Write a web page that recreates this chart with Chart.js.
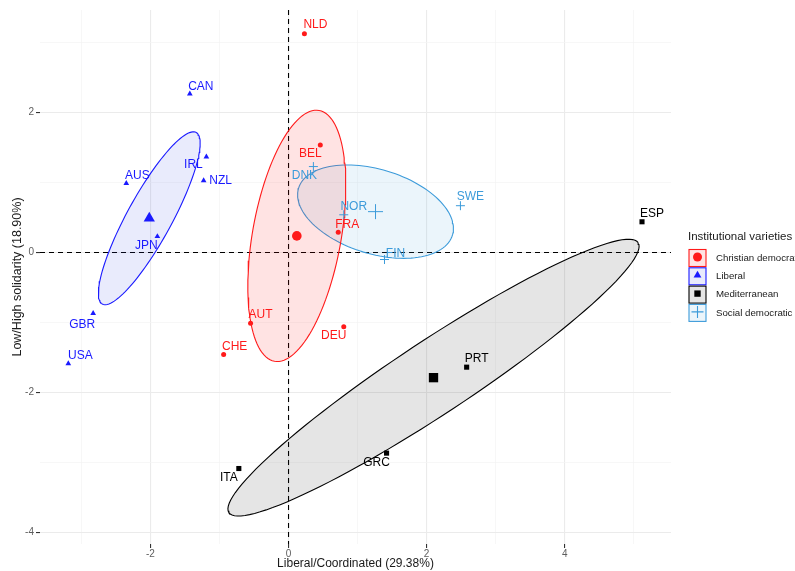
<!DOCTYPE html>
<html>
<head>
<meta charset="utf-8">
<script src="https://cdn.jsdelivr.net/npm/chart.js@4.4.1/dist/chart.umd.min.js"></script>
<style>
  html, body { margin: 0; padding: 0; background: #fff; overflow: hidden; }
  #wrap { width: 795px; height: 571px; position: relative; }
</style>
</head>
<body>
<div id="wrap"><canvas id="pcaChart"></canvas></div>
<script>
// Individual coordinates on the first two PCA dimensions
const christianNames = ['NLD', 'BEL', 'FRA', 'AUT', 'DEU', 'CHE'];
const christianX = [0.23, 0.46, 0.72, -0.55, 0.80, -0.94];
const christianY = [3.13, 1.54, 0.29, -1.01, -1.06, -1.46];

const liberalNames = ['CAN', 'IRL', 'NZL', 'AUS', 'JPN', 'GBR', 'USA'];
const liberalX = [-1.43, -1.19, -1.23, -2.35, -1.90, -2.83, -3.19];
const liberalY = [2.27, 1.37, 1.03, 0.99, 0.23, -0.87, -1.59];

const medNames = ['ESP', 'PRT', 'GRC', 'ITA'];
const medX = [5.12, 2.58, 1.42, -0.72];
const medY = [0.44, -1.64, -2.87, -3.09];

const socialNames = ['DNK', 'SWE', 'NOR', 'FIN'];
const socialX = [0.36, 2.49, 0.80, 1.39];
const socialY = [1.23, 0.67, 0.54, -0.10];

const xTickValues = [-3, -2, -1, 0, 1, 2, 3, 4, 5];
const yTickValues = [-4, -3, -2, -1, 0, 1, 2, 3];
const xTickLabels = ['', '-2', '', '0', '', '2', '', '4', ''];
const yTickLabels = ['-4', '', '-2', '', '0', '', '2', ''];

// label nudges in pixels (repelled text positions)
const christianNudge = [[11, -9], [-10, 9], [9, -8], [10, -8], [-10, 9], [11, -8]];
const liberalNudge = [[11, -7], [-13, 8], [17, 0], [11, -8], [-11, 9], [-11, 11], [12, -8]];
const medNudge = [[10, -8], [10, -8], [-10, 10], [-10, 9]];
const socialNudge = [[-9, 9], [10, -9], [10, -8], [11, -6]];

const groups = [
  { name: 'Christian democratic', names: christianNames, xs: christianX, ys: christianY, nudge: christianNudge,
    color: '#FF1A1A', fill: 'rgba(255,0,0,0.11)', style: 'circle', r: 2.5, rBig: 4.8 },
  { name: 'Liberal', names: liberalNames, xs: liberalX, ys: liberalY, nudge: liberalNudge,
    color: '#1A1AFF', fill: 'rgba(40,60,230,0.1)', style: 'triangle', r: 3.3, rBig: 6.5 },
  { name: 'Mediterranean', names: medNames, xs: medX, ys: medY, nudge: medNudge,
    color: '#000000', fill: 'rgba(0,0,0,0.1)', style: 'rect', r: 3.6, rBig: 6.6 },
  { name: 'Social democratic', names: socialNames, xs: socialX, ys: socialY, nudge: socialNudge,
    color: '#3C9BDA', fill: 'rgba(60,155,218,0.1)', style: 'cross', r: 4.5, rBig: 7.5 }
];

function mean(a) { return a.reduce((s, v) => s + v, 0) / a.length; }

// 95% confidence ellipse around the group barycentre
function confidenceEllipse(xs, ys) {
  const n = xs.length, mx = mean(xs), my = mean(ys);
  let sxx = 0, syy = 0, sxy = 0;
  for (let i = 0; i < n; i++) {
    sxx += (xs[i] - mx) ** 2;
    syy += (ys[i] - my) ** 2;
    sxy += (xs[i] - mx) * (ys[i] - my);
  }
  const a = sxx / (n - 1) / n, d = syy / (n - 1) / n, b = sxy / (n - 1) / n;
  const tr = a + d, det = a * d - b * b;
  const disc = Math.sqrt(tr * tr / 4 - det);
  const l1 = tr / 2 + disc, l2 = tr / 2 - disc;
  const theta = Math.atan2(l1 - a, b);
  const k = Math.sqrt(5.991);
  const pts = [];
  for (let i = 0; i <= 120; i++) {
    const t = 2 * Math.PI * i / 120;
    const u = k * Math.sqrt(l1) * Math.cos(t), v = k * Math.sqrt(l2) * Math.sin(t);
    pts.push({ x: mx + u * Math.cos(theta) - v * Math.sin(theta),
               y: my + u * Math.sin(theta) + v * Math.cos(theta) });
  }
  return pts;
}

const datasets = [];
groups.forEach(g => {
  datasets.push({
    data: confidenceEllipse(g.xs, g.ys),
    showLine: true, fill: 'shape', tension: 0,
    borderColor: g.color, backgroundColor: g.fill, borderWidth: 1.1,
    pointRadius: 0, order: 10
  });
  datasets.push({
    data: g.xs.map((v, i) => ({ x: v, y: g.ys[i] })),
    pointStyle: g.style, pointRadius: g.r, pointBackgroundColor: g.color,
    pointBorderColor: g.color, pointBorderWidth: g.style === 'cross' ? 1 : 0, order: 2
  });
  datasets.push({
    data: [{ x: mean(g.xs), y: mean(g.ys) }],
    pointStyle: g.style, pointRadius: g.rBig, pointBackgroundColor: g.color,
    pointBorderColor: g.color, pointBorderWidth: g.style === 'cross' ? 1 : 0, order: 1
  });
});

const FONT = '"Liberation Sans", Arial, sans-serif';

const refLines = {
  id: 'refLines',
  beforeDatasetsDraw(chart) {
    const { ctx, chartArea, scales: { x, y } } = chart;
    ctx.save();
    ctx.strokeStyle = '#000';
    ctx.lineWidth = 1.1;
    ctx.setLineDash([5, 4]);
    const px = x.getPixelForValue(0), py = y.getPixelForValue(0);
    ctx.beginPath();
    ctx.moveTo(px, chartArea.top); ctx.lineTo(px, chartArea.bottom);
    ctx.moveTo(chartArea.left, py); ctx.lineTo(chartArea.right, py);
    ctx.stroke();
    ctx.restore();
  }
};

const pointLabels = {
  id: 'pointLabels',
  afterDatasetsDraw(chart) {
    const { ctx, scales: { x, y } } = chart;
    ctx.save();
    ctx.font = '12px ' + FONT;
    ctx.textAlign = 'center';
    ctx.textBaseline = 'middle';
    groups.forEach(g => {
      ctx.fillStyle = g.color;
      g.names.forEach((n, i) => {
        ctx.fillText(n, x.getPixelForValue(g.xs[i]) + g.nudge[i][0],
                        y.getPixelForValue(g.ys[i]) + g.nudge[i][1]);
      });
    });
    ctx.restore();
  }
};

const sideLegend = {
  id: 'sideLegend',
  afterDraw(chart) {
    const { ctx, chartArea } = chart;
    const left = chartArea.right + 17;
    const midY = (chartArea.top + chartArea.bottom) / 2;
    ctx.save();
    ctx.fillStyle = '#1a1a1a';
    ctx.font = '11.5px ' + FONT;
    ctx.textBaseline = 'middle';
    ctx.textAlign = 'left';
    ctx.fillText('Institutional varieties', left, midY - 40);
    groups.forEach((g, i) => {
      const cy = midY - 19 + i * 18.3;
      ctx.fillStyle = 'rgba(255,255,255,1)';
      ctx.fillRect(left + 1, cy - 8.5, 17, 17);
      ctx.fillStyle = g.fill;
      ctx.fillRect(left + 1, cy - 8.5, 17, 17);
      ctx.strokeStyle = g.color;
      ctx.lineWidth = 1.1;
      ctx.setLineDash([]);
      ctx.strokeRect(left + 1, cy - 8.5, 17, 17);
      ctx.fillStyle = g.color;
      ctx.strokeStyle = g.color;
      Chart.helpers.drawPoint(ctx, {
        pointStyle: g.style, radius: g.style === 'cross' ? 6 : 4.5, rotation: 0,
        borderWidth: g.style === 'cross' ? 1 : 0
      }, left + 9.5, cy - 1);
      ctx.fillStyle = '#1a1a1a';
      ctx.font = '9.7px ' + FONT;
      ctx.fillText(g.name, left + 28, cy);
    });
    ctx.restore();
  }
};

function gridColor(ctx) {
  return Math.abs(ctx.tick.value) % 2 === 0 ? '#EBEBEB' : '#F3F3F3';
}
function gridWidth(ctx) {
  return Math.abs(ctx.tick.value) % 2 === 0 ? 1.1 : 0.7;
}
function tickColor(ctx) {
  return Math.abs(ctx.tick.value) % 2 === 0 ? '#333333' : 'rgba(0,0,0,0)';
}

new Chart(document.getElementById('pcaChart'), {
  type: 'scatter',
  data: { datasets: datasets },
  options: {
    responsive: true,
    maintainAspectRatio: false,
    animation: false,
    layout: { padding: { left: 0, right: 124, top: 10, bottom: 0 } },
    plugins: { legend: { display: false }, tooltip: { enabled: false } },
    scales: {
      x: {
        type: 'linear', min: -3.60, max: 5.54,
        afterBuildTicks: s => { s.ticks = xTickValues.map(v => ({ value: v })); },
        afterFit: s => { s.height = 27; },
        grid: { color: gridColor, lineWidth: gridWidth, tickColor: tickColor, tickLength: 4, drawTicks: true },
        border: { display: false },
        ticks: {
          color: '#5e5e5e', font: { size: 10, family: FONT }, padding: 0, maxRotation: 0, autoSkip: false,
          callback: (v, i) => xTickLabels[xTickValues.indexOf(v)]
        },
        title: { display: true, text: 'Liberal/Coordinated (29.38%)', color: '#1a1a1a',
                 font: { size: 12, family: FONT }, padding: { top: 0, bottom: 0 } }
      },
      y: {
        type: 'linear', min: -4.17, max: 3.47,
        afterBuildTicks: s => { s.ticks = yTickValues.map(v => ({ value: v })); },
        afterFit: s => { s.width = 40; },
        grid: { color: gridColor, lineWidth: gridWidth, tickColor: tickColor, tickLength: 4, drawTicks: true },
        border: { display: false },
        ticks: {
          color: '#5e5e5e', font: { size: 10, family: FONT }, padding: 2, autoSkip: false,
          callback: (v, i) => yTickLabels[yTickValues.indexOf(v)]
        },
        title: { display: true, text: 'Low/High solidarity (18.90%)', color: '#1a1a1a',
                 font: { size: 12.5, family: FONT }, padding: { top: 10, bottom: 0 } }
      }
    }
  },
  plugins: [refLines, pointLabels, sideLegend]
});
</script>
</body>
</html>
